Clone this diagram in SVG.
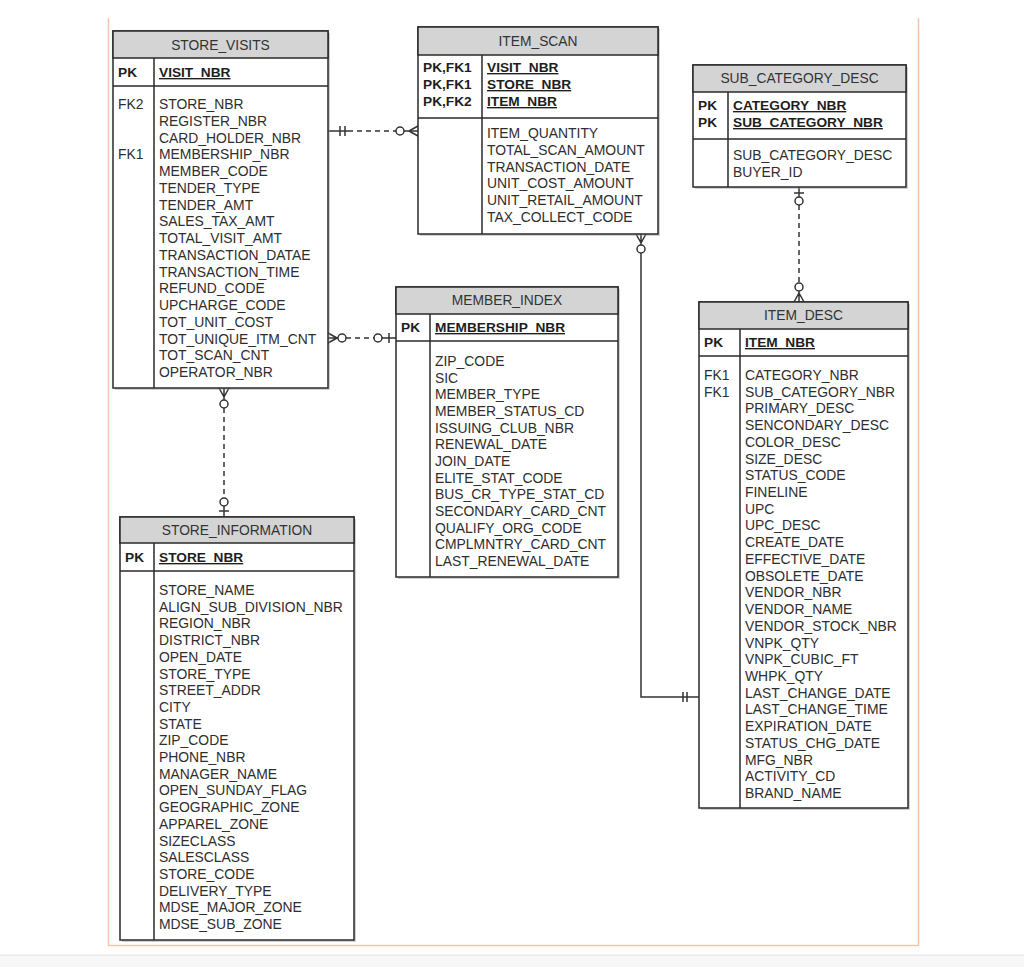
<svg xmlns="http://www.w3.org/2000/svg" width="1024" height="967" viewBox="0 0 1024 967">
<defs>
<style>
.box{fill:#fff;stroke:#2a2a2a;stroke-width:1.5}
.shadow{fill:#9a9a9a;opacity:0.45}
.hdr{fill:#d4d4d4;stroke:#2a2a2a;stroke-width:1.5}
.ln{stroke:#2a2a2a;stroke-width:1.5;fill:none}
.t{font-family:"Liberation Sans",Arial,sans-serif;font-size:13.9px;fill:#2e2e2e}
.title{font-family:"Liberation Sans",Arial,sans-serif;font-size:13.8px;fill:#333;text-anchor:middle}
.pk{font-family:"Liberation Sans",Arial,sans-serif;font-size:13.7px;fill:#1e1e1e;font-weight:bold}
.pkf{font-family:"Liberation Sans",Arial,sans-serif;font-size:13.7px;fill:#1e1e1e;font-weight:bold;text-decoration:underline}
.c{stroke:#333;stroke-width:1.5;fill:none}
.d{stroke:#333;stroke-width:1.5;fill:none;stroke-dasharray:5,4}
.o{stroke:#333;stroke-width:1.5;fill:#fff}
</style>
</defs>
<rect x="0" y="0" width="1024" height="967" fill="#fff"/>
<rect x="0" y="955" width="1024" height="12" fill="#f7f7f7"/>
<line x1="0" y1="955" x2="1024" y2="955" stroke="#e2e2e2" stroke-width="1"/>
<path d="M108.5,18 V945.5 H918.5 V18" fill="none" stroke="#f5c6aa" stroke-width="1.5"/>

<g id="connectors">
  <!-- STORE_VISITS -> ITEM_SCAN -->
  <line class="c" x1="328" y1="131" x2="348" y2="131"/>
  <line class="d" x1="348" y1="131" x2="396" y2="131"/>
  <line class="c" x1="340" y1="126" x2="340" y2="136"/>
  <line class="c" x1="345" y1="126" x2="345" y2="136"/>
  <line class="c" x1="404" y1="131" x2="418" y2="131"/>
  <path class="c" d="M409,131 L418,126 M409,131 L418,136"/>
  <circle class="o" cx="400" cy="131" r="4"/>

  <!-- STORE_VISITS -> MEMBER_INDEX -->
  <path class="c" d="M337,338 L328,333 M337,338 L328,343 M328,338 L338,338"/>
  <line class="d" x1="346" y1="338" x2="374" y2="338"/>
  <circle class="o" cx="342" cy="338" r="4"/>
  <line class="c" x1="382" y1="338" x2="396" y2="338"/>
  <circle class="o" cx="378" cy="338" r="4"/>
  <line class="c" x1="389" y1="333" x2="389" y2="343"/>

  <!-- STORE_VISITS -> STORE_INFORMATION -->
  <path class="c" d="M224,397 L219,388 M224,397 L229,388 M224,388 L224,400"/>
  <circle class="o" cx="224" cy="404" r="4"/>
  <line class="d" x1="224" y1="408" x2="224" y2="498"/>
  <circle class="o" cx="224" cy="502" r="4"/>
  <line class="c" x1="224" y1="506" x2="224" y2="517"/>
  <line class="c" x1="219" y1="511" x2="229" y2="511"/>

  <!-- ITEM_SCAN -> ITEM_DESC -->
  <path class="c" d="M641,243 L636,234 M641,243 L646,234 M641,234 L641,245"/>
  <circle class="o" cx="641" cy="249" r="4"/>
  <path class="c" d="M641,253 V697 H699"/>
  <line class="c" x1="683" y1="692" x2="683" y2="702"/>
  <line class="c" x1="687" y1="692" x2="687" y2="702"/>

  <!-- SUB_CATEGORY_DESC -> ITEM_DESC -->
  <line class="c" x1="799" y1="187" x2="799" y2="197"/>
  <line class="c" x1="794" y1="193" x2="804" y2="193"/>
  <circle class="o" cx="799" cy="201" r="4"/>
  <line class="d" x1="799" y1="205" x2="799" y2="283"/>
  <circle class="o" cx="799" cy="287" r="4"/>
  <path class="c" d="M799,293 L794,302 M799,293 L804,302 M799,291 L799,302"/>
</g>

<g id="store_visits">
  <rect class="shadow" x="115" y="33" width="215" height="357"/>
  <rect class="box" x="113" y="31" width="215" height="357"/>
  <rect class="hdr" x="113" y="31" width="215" height="27"/>
  <text class="title" x="220.5" y="50">STORE_VISITS</text>
  <line class="ln" x1="113" y1="86" x2="328" y2="86"/>
  <line class="ln" x1="154" y1="58" x2="154" y2="388"/>
  <text class="pk" x="118" y="77">PK</text>
  <text class="pkf" x="159" y="77">VISIT_NBR</text>
  <text class="t" x="118" y="109">FK2</text>
  <text class="t" x="118" y="159.2">FK1</text>
  <text class="t" x="159" y="109"><tspan x="159">STORE_NBR</tspan><tspan x="159" dy="16.75">REGISTER_NBR</tspan><tspan x="159" dy="16.75">CARD_HOLDER_NBR</tspan><tspan x="159" dy="16.75">MEMBERSHIP_NBR</tspan><tspan x="159" dy="16.75">MEMBER_CODE</tspan><tspan x="159" dy="16.75">TENDER_TYPE</tspan><tspan x="159" dy="16.75">TENDER_AMT</tspan><tspan x="159" dy="16.75">SALES_TAX_AMT</tspan><tspan x="159" dy="16.75">TOTAL_VISIT_AMT</tspan><tspan x="159" dy="16.75">TRANSACTION_DATAE</tspan><tspan x="159" dy="16.75">TRANSACTION_TIME</tspan><tspan x="159" dy="16.75">REFUND_CODE</tspan><tspan x="159" dy="16.75">UPCHARGE_CODE</tspan><tspan x="159" dy="16.75">TOT_UNIT_COST</tspan><tspan x="159" dy="16.75">TOT_UNIQUE_ITM_CNT</tspan><tspan x="159" dy="16.75">TOT_SCAN_CNT</tspan><tspan x="159" dy="16.75">OPERATOR_NBR</tspan></text>
</g>

<g id="item_scan">
  <rect class="shadow" x="420" y="29" width="240" height="207"/>
  <rect class="box" x="418" y="27" width="240" height="207"/>
  <rect class="hdr" x="418" y="27" width="240" height="28"/>
  <text class="title" x="538" y="46">ITEM_SCAN</text>
  <line class="ln" x1="418" y1="118" x2="658" y2="118"/>
  <line class="ln" x1="482" y1="55" x2="482" y2="234"/>
  <text class="pk" x="423" y="72"><tspan x="423">PK,FK1</tspan><tspan x="423" dy="17">PK,FK1</tspan><tspan x="423" dy="17">PK,FK2</tspan></text>
  <text class="pkf" x="487" y="72"><tspan x="487">VISIT_NBR</tspan><tspan x="487" dy="17">STORE_NBR</tspan><tspan x="487" dy="17">ITEM_NBR</tspan></text>
  <text class="t" x="487" y="138"><tspan x="487">ITEM_QUANTITY</tspan><tspan x="487" dy="16.8">TOTAL_SCAN_AMOUNT</tspan><tspan x="487" dy="16.8">TRANSACTION_DATE</tspan><tspan x="487" dy="16.8">UNIT_COST_AMOUNT</tspan><tspan x="487" dy="16.8">UNIT_RETAIL_AMOUNT</tspan><tspan x="487" dy="16.8">TAX_COLLECT_CODE</tspan></text>
</g>

<g id="sub_category_desc">
  <rect class="shadow" x="695" y="67" width="213" height="122"/>
  <rect class="box" x="693" y="65" width="213" height="122"/>
  <rect class="hdr" x="693" y="65" width="213" height="27"/>
  <text class="title" x="799.5" y="83">SUB_CATEGORY_DESC</text>
  <line class="ln" x1="693" y1="139" x2="906" y2="139"/>
  <line class="ln" x1="728" y1="92" x2="728" y2="187"/>
  <text class="pk" x="698" y="110"><tspan x="698">PK</tspan><tspan x="698" dy="17">PK</tspan></text>
  <text class="pkf" x="733" y="110"><tspan x="733">CATEGORY_NBR</tspan><tspan x="733" dy="17">SUB_CATEGORY_NBR</tspan></text>
  <text class="t" x="733" y="160"><tspan x="733">SUB_CATEGORY_DESC</tspan><tspan x="733" dy="17">BUYER_ID</tspan></text>
</g>

<g id="member_index">
  <rect class="shadow" x="398" y="289" width="222" height="290"/>
  <rect class="box" x="396" y="287" width="222" height="290"/>
  <rect class="hdr" x="396" y="287" width="222" height="27"/>
  <text class="title" x="507" y="305">MEMBER_INDEX</text>
  <line class="ln" x1="396" y1="341" x2="618" y2="341"/>
  <line class="ln" x1="430" y1="314" x2="430" y2="577"/>
  <text class="pk" x="401" y="332">PK</text>
  <text class="pkf" x="435" y="332">MEMBERSHIP_NBR</text>
  <text class="t" x="435" y="366"><tspan x="435">ZIP_CODE</tspan><tspan x="435" dy="16.67">SIC</tspan><tspan x="435" dy="16.67">MEMBER_TYPE</tspan><tspan x="435" dy="16.67">MEMBER_STATUS_CD</tspan><tspan x="435" dy="16.67">ISSUING_CLUB_NBR</tspan><tspan x="435" dy="16.67">RENEWAL_DATE</tspan><tspan x="435" dy="16.67">JOIN_DATE</tspan><tspan x="435" dy="16.67">ELITE_STAT_CODE</tspan><tspan x="435" dy="16.67">BUS_CR_TYPE_STAT_CD</tspan><tspan x="435" dy="16.67">SECONDARY_CARD_CNT</tspan><tspan x="435" dy="16.67">QUALIFY_ORG_CODE</tspan><tspan x="435" dy="16.67">CMPLMNTRY_CARD_CNT</tspan><tspan x="435" dy="16.67">LAST_RENEWAL_DATE</tspan></text>
</g>

<g id="item_desc">
  <rect class="shadow" x="701" y="304" width="209" height="506"/>
  <rect class="box" x="699" y="302" width="209" height="506"/>
  <rect class="hdr" x="699" y="302" width="209" height="27"/>
  <text class="title" x="803.5" y="320">ITEM_DESC</text>
  <line class="ln" x1="699" y1="356" x2="908" y2="356"/>
  <line class="ln" x1="740" y1="329" x2="740" y2="808"/>
  <text class="pk" x="704" y="347">PK</text>
  <text class="pkf" x="745" y="347">ITEM_NBR</text>
  <text class="t" x="704" y="380"><tspan x="704">FK1</tspan><tspan x="704" dy="16.72">FK1</tspan></text>
  <text class="t" x="745" y="380"><tspan x="745">CATEGORY_NBR</tspan><tspan x="745" dy="16.72">SUB_CATEGORY_NBR</tspan><tspan x="745" dy="16.72">PRIMARY_DESC</tspan><tspan x="745" dy="16.72">SENCONDARY_DESC</tspan><tspan x="745" dy="16.72">COLOR_DESC</tspan><tspan x="745" dy="16.72">SIZE_DESC</tspan><tspan x="745" dy="16.72">STATUS_CODE</tspan><tspan x="745" dy="16.72">FINELINE</tspan><tspan x="745" dy="16.72">UPC</tspan><tspan x="745" dy="16.72">UPC_DESC</tspan><tspan x="745" dy="16.72">CREATE_DATE</tspan><tspan x="745" dy="16.72">EFFECTIVE_DATE</tspan><tspan x="745" dy="16.72">OBSOLETE_DATE</tspan><tspan x="745" dy="16.72">VENDOR_NBR</tspan><tspan x="745" dy="16.72">VENDOR_NAME</tspan><tspan x="745" dy="16.72">VENDOR_STOCK_NBR</tspan><tspan x="745" dy="16.72">VNPK_QTY</tspan><tspan x="745" dy="16.72">VNPK_CUBIC_FT</tspan><tspan x="745" dy="16.72">WHPK_QTY</tspan><tspan x="745" dy="16.72">LAST_CHANGE_DATE</tspan><tspan x="745" dy="16.72">LAST_CHANGE_TIME</tspan><tspan x="745" dy="16.72">EXPIRATION_DATE</tspan><tspan x="745" dy="16.72">STATUS_CHG_DATE</tspan><tspan x="745" dy="16.72">MFG_NBR</tspan><tspan x="745" dy="16.72">ACTIVITY_CD</tspan><tspan x="745" dy="16.72">BRAND_NAME</tspan></text>
</g>

<g id="store_information">
  <rect class="shadow" x="122" y="519" width="234" height="423"/>
  <rect class="box" x="120" y="517" width="234" height="423"/>
  <rect class="hdr" x="120" y="517" width="234" height="26"/>
  <text class="title" x="237" y="535">STORE_INFORMATION</text>
  <line class="ln" x1="120" y1="571" x2="354" y2="571"/>
  <line class="ln" x1="154" y1="543" x2="154" y2="940"/>
  <text class="pk" x="125" y="562">PK</text>
  <text class="pkf" x="159" y="562">STORE_NBR</text>
  <text class="t" x="159" y="595"><tspan x="159">STORE_NAME</tspan><tspan x="159" dy="16.7">ALIGN_SUB_DIVISION_NBR</tspan><tspan x="159" dy="16.7">REGION_NBR</tspan><tspan x="159" dy="16.7">DISTRICT_NBR</tspan><tspan x="159" dy="16.7">OPEN_DATE</tspan><tspan x="159" dy="16.7">STORE_TYPE</tspan><tspan x="159" dy="16.7">STREET_ADDR</tspan><tspan x="159" dy="16.7">CITY</tspan><tspan x="159" dy="16.7">STATE</tspan><tspan x="159" dy="16.7">ZIP_CODE</tspan><tspan x="159" dy="16.7">PHONE_NBR</tspan><tspan x="159" dy="16.7">MANAGER_NAME</tspan><tspan x="159" dy="16.7">OPEN_SUNDAY_FLAG</tspan><tspan x="159" dy="16.7">GEOGRAPHIC_ZONE</tspan><tspan x="159" dy="16.7">APPAREL_ZONE</tspan><tspan x="159" dy="16.7">SIZECLASS</tspan><tspan x="159" dy="16.7">SALESCLASS</tspan><tspan x="159" dy="16.7">STORE_CODE</tspan><tspan x="159" dy="16.7">DELIVERY_TYPE</tspan><tspan x="159" dy="16.7">MDSE_MAJOR_ZONE</tspan><tspan x="159" dy="16.7">MDSE_SUB_ZONE</tspan></text>
</g>
</svg>
